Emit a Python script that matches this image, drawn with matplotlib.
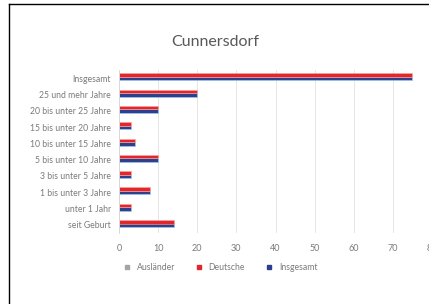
import matplotlib

matplotlib.use("Agg")
import matplotlib.pyplot as plt
import numpy as np
from matplotlib.lines import Line2D

plt.rcParams["font.family"] = ["Lato", "DejaVu Sans"]

# categories listed bottom to top
categories = [
    "seit Geburt",
    "unter 1 Jahr",
    "1 bis unter 3 Jahre",
    "3 bis unter 5 Jahre",
    "5 bis unter 10 Jahre",
    "10 bis unter 15 Jahre",
    "15 bis unter 20 Jahre",
    "20 bis unter 25 Jahre",
    "25 und mehr Jahre",
    "Insgesamt",
]
auslaender = [0, 0, 0, 0, 0, 0, 0, 0, 0, 0]
deutsche = [14, 3, 8, 3, 10, 4, 3, 10, 20, 75]
insgesamt = [14, 3, 8, 3, 10, 4, 3, 10, 20, 75]
x_ticks = [0, 10, 20, 30, 40, 50, 60, 70, 80]

W, H = 429, 304
fig = plt.figure(figsize=(W / 100, H / 100), dpi=100)
fig.patch.set_facecolor("white")

ax = fig.add_axes([119 / W, 1 - 233 / H, 313 / W, 163 / H])
y = np.arange(len(categories))
h = 0.22
ax.barh(y - h, auslaender, height=h, color="#a5a5a5")
ax.barh(y - h * 0.1, insgesamt, height=h, color="#2e3f8c", edgecolor="#9fc8ee", linewidth=0.5)
ax.barh(y + h * 0.85, deutsche, height=h, color="#e3262b", edgecolor="#f7a8a0", linewidth=0.4)

ax.set_xlim(0, 80)
ax.set_ylim(-0.5, len(categories) - 0.5)
ax.set_xticks(x_ticks)
ax.set_yticks(y)
ax.set_yticklabels(categories)
ax.tick_params(axis="x", length=0, labelsize=6.5, labelcolor="#7a7a7a", pad=8)
ax.tick_params(axis="y", length=0, labelsize=6.2, labelcolor="#7a7a7a", pad=6)
ax.grid(axis="x", color="#e6e6e6", linewidth=0.7)
ax.set_axisbelow(True)
for side in ["top", "right", "bottom"]:
    ax.spines[side].set_visible(False)
ax.spines["left"].set_color("#d9d9d9")
ax.spines["left"].set_linewidth(0.7)

fig.text(215 / W, 1 - 42 / H, "Cunnersdorf", ha="center", va="center",
         fontsize=11.5, color="#595959")

legend_items = [("Ausländer", "#a5a5a5"), ("Deutsche", "#e3262b"), ("Insgesamt", "#2e3f8c")]
handles = [Line2D([], [], marker="s", linestyle="", markersize=3.5, color=c) for _, c in legend_items]
fig.legend(handles, [n for n, _ in legend_items], loc="center", ncol=3,
           bbox_to_anchor=(218 / W, 1 - 268 / H), frameon=False, fontsize=6.2,
           labelcolor="#7a7a7a", handletextpad=0.1, columnspacing=1.8)

# outer chart frame (cropped on right and bottom)
fig.add_artist(Line2D([8.5 / W, 8.5 / W], [0, 1 - 4 / H], transform=fig.transFigure,
                      color="black", linewidth=1.0))
fig.add_artist(Line2D([8.5 / W, 1], [1 - 4 / H, 1 - 4 / H], transform=fig.transFigure,
                      color="black", linewidth=1.0))

fig.savefig("out.png", dpi=100)
plt.close(fig)
